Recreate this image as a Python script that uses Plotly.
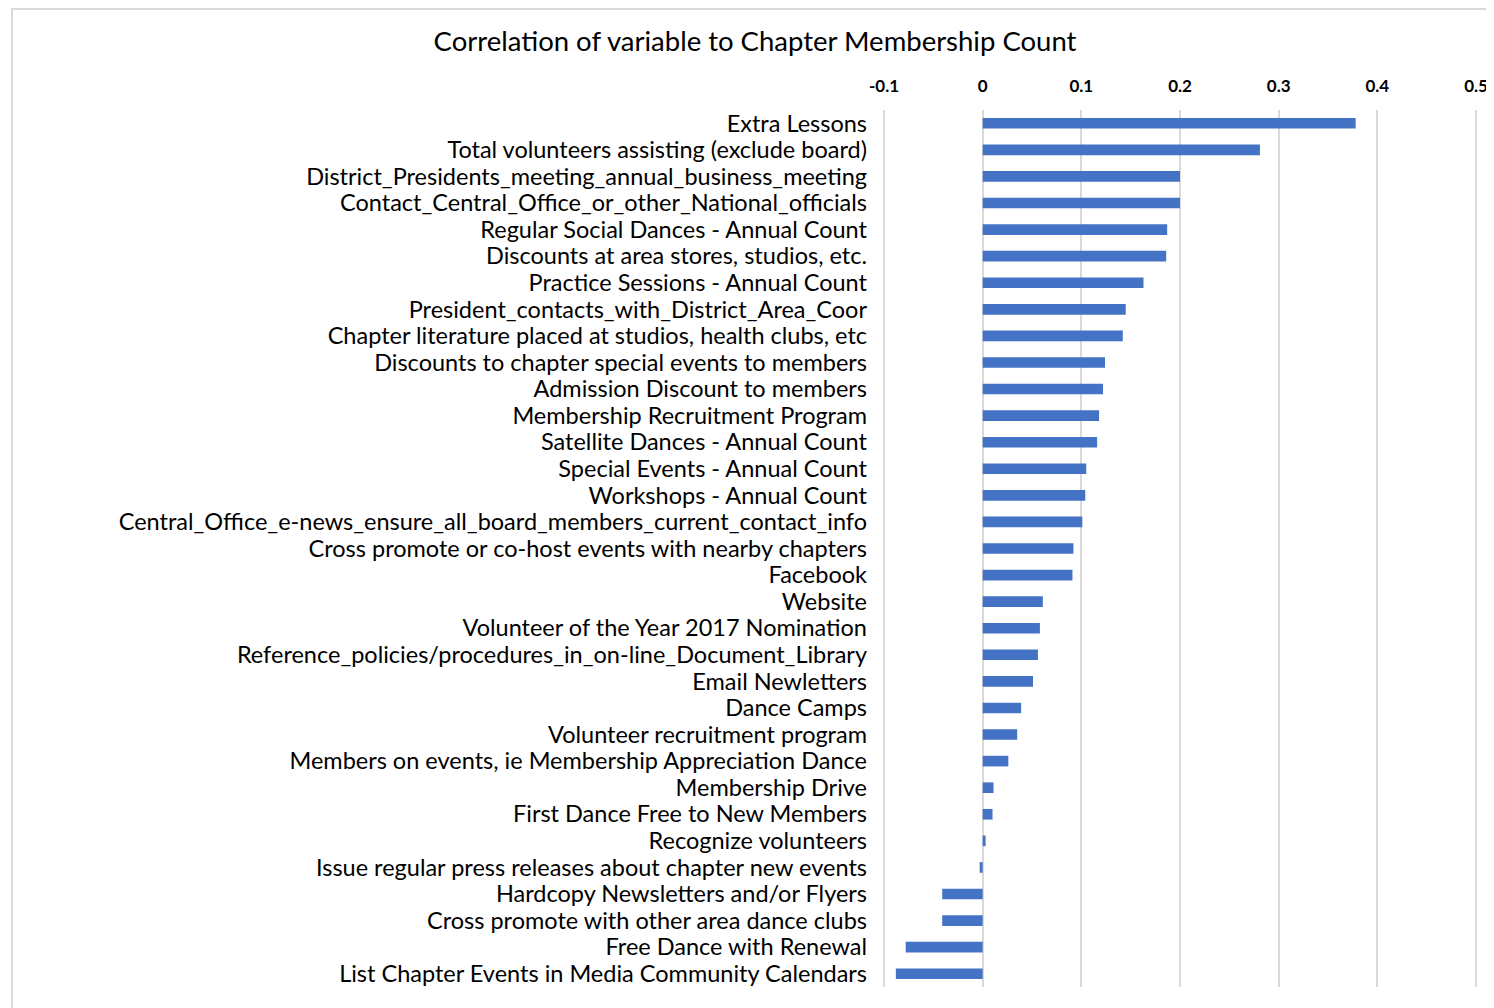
import plotly.graph_objects as go

categories = [
    "Extra Lessons",
    "Total volunteers assisting (exclude board)",
    "District_Presidents_meeting_annual_business_meeting",
    "Contact_Central_Office_or_other_National_officials",
    "Regular Social Dances - Annual Count",
    "Discounts at area stores, studios, etc.",
    "Practice Sessions - Annual Count",
    "President_contacts_with_District_Area_Coor",
    "Chapter literature placed at studios, health clubs, etc",
    "Discounts to chapter special events to members",
    "Admission Discount to members",
    "Membership Recruitment Program",
    "Satellite Dances - Annual Count",
    "Special Events - Annual Count",
    "Workshops - Annual Count",
    "Central_Office_e-news_ensure_all_board_members_current_contact_info",
    "Cross promote or co-host events with nearby chapters",
    "Facebook",
    "Website",
    "Volunteer of the Year 2017 Nomination",
    "Reference_policies/procedures_in_on-line_Document_Library",
    "Email Newletters",
    "Dance Camps",
    "Volunteer recruitment program",
    "Members on events, ie Membership Appreciation Dance",
    "Membership Drive",
    "First Dance Free to New Members",
    "Recognize volunteers",
    "Issue regular press releases about chapter new events",
    "Hardcopy Newsletters and/or Flyers",
    "Cross promote with other area dance clubs",
    "Free Dance with Renewal",
    "List Chapter Events in Media Community Calendars",
]

values = [
    0.378, 0.281, 0.200, 0.200, 0.187, 0.186, 0.163, 0.145, 0.142, 0.124,
    0.122, 0.118, 0.116, 0.105, 0.104, 0.101, 0.092, 0.091, 0.061, 0.058,
    0.056, 0.051, 0.039, 0.035, 0.026, 0.011, 0.010, 0.003, -0.003, -0.041,
    -0.041, -0.078, -0.088,
]

tick_vals = [-0.1, 0, 0.1, 0.2, 0.3, 0.4, 0.5]
tick_text = ["-0.1", "0", "0.1", "0.2", "0.3", "0.4", "0.5"]

FONT = "Lato, 'Open Sans', sans-serif"

fig = go.Figure(
    go.Bar(
        x=values,
        y=categories,
        orientation="h",
        marker=dict(color="#4472C4", line=dict(width=0)),
        width=0.4,
    )
)

# page body has an 8px margin, so the figure is placed at (8, 8)
OFF = 8
W, H = 1494 - OFF, 1008 - OFF
PAD = 3  # px of padding so the edge gridlines are drawn
X_LO, X_HI = 884, 1476  # page px of -0.1 and 0.5
per_unit = (X_HI - X_LO) / 0.6
dpad = PAD / per_unit
L = X_LO - PAD - OFF
R = 1494 - (X_HI + PAD)
T, B = 110 - OFF, 21
PW = W - L - R
PH = H - T - B

fig.update_layout(
    width=W,
    height=H,
    paper_bgcolor="white",
    plot_bgcolor="white",
    margin=dict(l=L, r=R, t=T, b=B, autoexpand=False),
    showlegend=False,
    title=dict(
        text="Correlation of variable to Chapter Membership Count",
        x=(755 - OFF) / W,
        xanchor="center",
        xref="container",
        yref="container",
        y=1 - (41 - OFF) / H,
        yanchor="middle",
        font=dict(family=FONT, size=27.5, color="#000000"),
    ),
    xaxis=dict(
        side="top",
        range=[-0.1 - dpad, 0.5 + dpad],
        tickvals=tick_vals,
        ticktext=tick_text,
        showgrid=True,
        gridcolor="#d9d9d9",
        gridwidth=1.8,
        zeroline=False,
        showline=False,
        ticks="",
        automargin=False,
        ticklabelstandoff=15 - PAD // 3,
        tickfont=dict(family=FONT, size=17, color="#000000", weight="bold"),
    ),
    yaxis=dict(
        categoryorder="array",
        categoryarray=categories,
        autorange="reversed",
        tickmode="array",
        tickvals=categories,
        ticktext=categories,
        showgrid=False,
        zeroline=False,
        showline=False,
        ticks="",
        automargin=False,
        ticklabelstandoff=16 - PAD,
        tickfont=dict(family=FONT, size=23.5, color="#000000"),
    ),
    shapes=[
        dict(
            type="rect",
            xref="paper",
            yref="paper",
            x0=(12 - OFF - L) / PW,
            x1=(1520 - OFF - L) / PW,
            y0=-0.1,
            y1=(H - B - 1) / PH,
            line=dict(color="#d9d9d9", width=2),
            fillcolor="rgba(0,0,0,0)",
            layer="below",
        )
    ],
)

fig.write_html("out.html")
